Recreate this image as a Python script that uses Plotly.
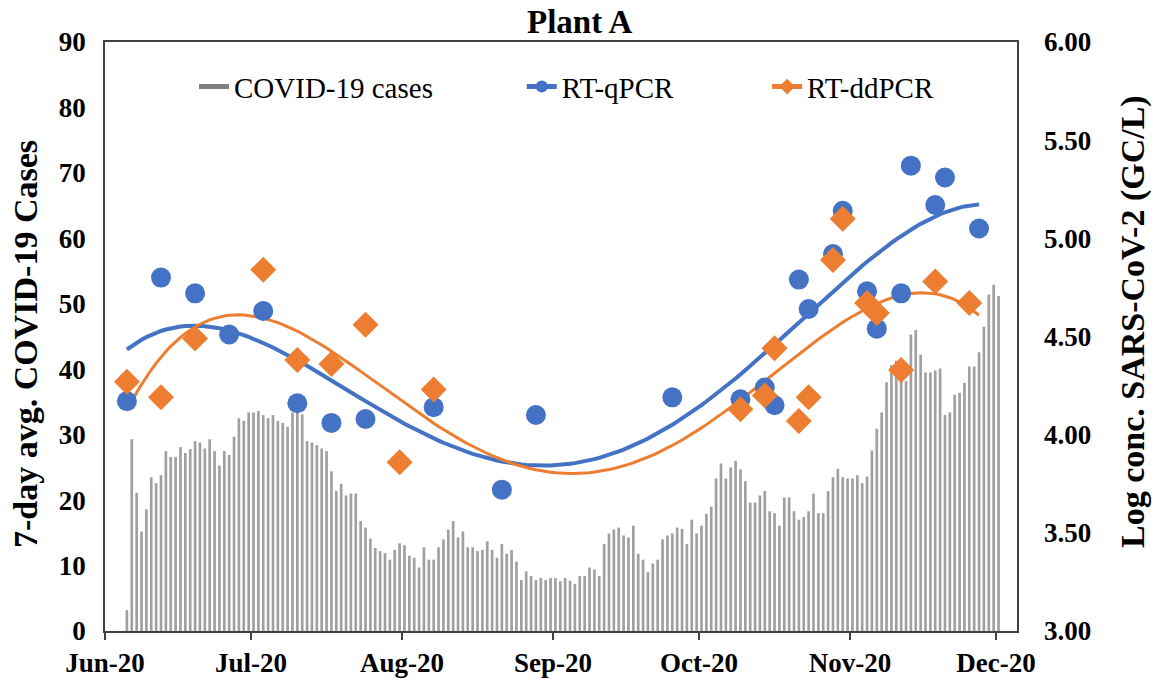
import numpy as np
import pandas as pd
import plotly.graph_objects as go

# 7-day average of reported COVID-19 cases, one value per day from 5 Jun 2020
case_start = "2020-06-05"
cases_7day = [
    3.2, 29.3, 21.1, 15.2, 18.6, 23.5, 22.6, 23.8, 27.5, 26.6,
    26.6, 28.1, 27.2, 27.8, 29.0, 28.8, 27.9, 29.3, 27.5, 25.3,
    27.5, 26.9, 29.7, 32.5, 32.1, 33.4, 33.4, 33.6, 33.0, 32.5,
    33.0, 32.1, 31.8, 31.2, 33.4, 33.5, 33.1, 29.0, 28.8, 28.4,
    27.9, 27.5, 24.4, 21.4, 22.5, 20.7, 21.0, 21.0, 16.8, 15.8,
    14.1, 12.7, 12.2, 11.9, 10.9, 12.4, 13.4, 13.1, 11.5, 11.2,
    9.7, 12.8, 10.9, 10.9, 12.8, 14.0, 15.5, 16.8, 14.3, 15.2,
    12.8, 12.8, 12.2, 12.4, 13.7, 12.4, 11.2, 13.3, 11.8, 12.4,
    10.6, 7.8, 9.1, 8.4, 7.8, 8.1, 7.8, 8.1, 8.1, 7.6,
    8.1, 7.7, 7.2, 8.4, 8.4, 9.7, 9.4, 8.4, 13.3, 14.9,
    15.5, 15.8, 14.6, 14.3, 16.1, 11.8, 10.9, 9.0, 10.3, 10.9,
    14.0, 14.6, 14.9, 15.8, 15.6, 13.3, 17.0, 14.9, 16.1, 17.9,
    19.0, 23.3, 25.6, 23.3, 25.0, 26.0, 24.7, 22.9, 19.6, 19.6,
    20.7, 21.4, 18.3, 18.0, 16.1, 20.4, 20.4, 18.3, 17.0, 17.4,
    18.3, 21.0, 18.0, 18.0, 21.4, 23.5, 24.8, 23.5, 23.3, 23.3,
    23.8, 22.6, 23.6, 27.6, 30.9, 33.4, 38.0, 40.6, 41.3, 40.6,
    38.2, 45.3, 46.0, 42.2, 39.5, 39.5, 39.8, 40.1, 33.0, 33.4,
    36.1, 36.4, 37.9, 40.4, 40.4, 42.6, 46.5, 51.4, 52.9, 51.2,
]
case_dates = pd.date_range(case_start, periods=len(cases_7day), freq="D")

# Wastewater SARS-CoV-2 concentrations (log10 GC/L)
qpcr_dates = [
    "2020-06-05", "2020-06-12", "2020-06-19", "2020-06-26", "2020-07-03",
    "2020-07-10", "2020-07-17", "2020-07-24", "2020-08-07", "2020-08-21",
    "2020-08-28", "2020-09-25", "2020-10-09", "2020-10-14", "2020-10-16",
    "2020-10-21", "2020-10-23", "2020-10-28", "2020-10-30", "2020-11-04",
    "2020-11-06", "2020-11-11", "2020-11-13", "2020-11-18", "2020-11-20",
    "2020-11-27",
]
qpcr_log = [
    4.17, 4.80, 4.72, 4.51, 4.63,
    4.16, 4.06, 4.08, 4.14, 3.72,
    4.10, 4.19, 4.18, 4.24, 4.15,
    4.79, 4.64, 4.92, 5.14, 4.73,
    4.54, 4.72, 5.37, 5.17, 5.31,
    5.05,
]
ddpcr_dates = [
    "2020-06-05", "2020-06-12", "2020-06-19", "2020-07-03", "2020-07-10",
    "2020-07-17", "2020-07-24", "2020-07-31", "2020-08-07", "2020-10-09",
    "2020-10-14", "2020-10-16", "2020-10-21", "2020-10-23", "2020-10-28",
    "2020-10-30", "2020-11-04", "2020-11-06", "2020-11-11", "2020-11-18",
    "2020-11-25",
]
ddpcr_log = [
    4.27, 4.19, 4.49, 4.84, 4.38,
    4.36, 4.56, 3.86, 4.23, 4.13,
    4.20, 4.44, 4.07, 4.19, 4.89,
    5.10, 4.67, 4.62, 4.33, 4.78,
    4.67,
]

month_ticks = ["2020-06-01", "2020-07-01", "2020-08-01", "2020-09-01",
               "2020-10-01", "2020-11-01", "2020-12-01"]
month_labels = ["Jun-20", "Jul-20", "Aug-20", "Sep-20", "Oct-20", "Nov-20", "Dec-20"]

GREY = "#A0A0A0"
KEY_GREY = "#808080"
BLUE = "#4472C4"
ORANGE = "#ED7D31"
FRAME = "#404040"
FONT = "Liberation Serif"
DAY_MS = 86400000

# Both sampling series share one sampling calendar; trendlines span all of it
sample_start = min(pd.to_datetime(qpcr_dates[0]), pd.to_datetime(ddpcr_dates[0]))
sample_end = max(pd.to_datetime(qpcr_dates[-1]), pd.to_datetime(ddpcr_dates[-1]))


def poly_trend(dates, values, order=4):
    """Least-squares polynomial trendline evaluated daily over the sampling span."""
    d = pd.to_datetime(dates)
    t = np.asarray((d - sample_start).days, dtype=float)
    coef = np.polyfit(t, values, order)
    grid = pd.date_range(sample_start, sample_end, freq="D")
    tg = np.asarray((grid - sample_start).days, dtype=float)
    return grid, np.polyval(coef, tg)


q_tx, q_ty = poly_trend(qpcr_dates, qpcr_log)
d_tx, d_ty = poly_trend(ddpcr_dates, ddpcr_log)

period = dict(xperiod=DAY_MS, xperiodalignment="middle")

fig = go.Figure()

fig.add_trace(go.Bar(
    x=case_dates, y=cases_7day, name="COVID-19 cases", showlegend=False,
    marker=dict(color=GREY, line=dict(width=0)), **period,
))

# Trendlines
fig.add_trace(go.Scatter(
    x=q_tx, y=q_ty, mode="lines", yaxis="y2", showlegend=False,
    line=dict(color=BLUE, width=4), **period,
))
fig.add_trace(go.Scatter(
    x=d_tx, y=d_ty, mode="lines", yaxis="y2", showlegend=False,
    line=dict(color=ORANGE, width=3), **period,
))

# Sample points
fig.add_trace(go.Scatter(
    x=pd.to_datetime(qpcr_dates), y=qpcr_log, mode="markers", yaxis="y2",
    showlegend=False, marker=dict(symbol="circle", size=20, color=BLUE),
    **period,
))
fig.add_trace(go.Scatter(
    x=pd.to_datetime(ddpcr_dates), y=ddpcr_log, mode="markers", yaxis="y2",
    showlegend=False, marker=dict(symbol="diamond", size=20, color=ORANGE),
    **period,
))

# Legend-only keys
fig.add_trace(go.Scatter(
    x=[None], y=[None], mode="lines", name="COVID-19 cases",
    line=dict(color=KEY_GREY, width=12), legend="legend",
))
fig.add_trace(go.Scatter(
    x=[None], y=[None], mode="lines+markers", name="RT-qPCR", yaxis="y2",
    line=dict(color=BLUE, width=4), marker=dict(symbol="circle", size=12, color=BLUE),
    legend="legend2",
))
fig.add_trace(go.Scatter(
    x=[None], y=[None], mode="lines+markers", name="RT-ddPCR", yaxis="y2",
    line=dict(color=ORANGE, width=3), marker=dict(symbol="diamond", size=12, color=ORANGE),
    legend="legend3",
))

legend_common = dict(
    orientation="h", yanchor="middle", xanchor="left", y=0.924,
    bgcolor="rgba(0,0,0,0)", font=dict(family=FONT, size=29, color="#000000"),
    itemsizing="constant",
)

tick_font = dict(family=FONT, size=27, color="#000000", weight="bold")

fig.update_layout(
    width=1155, height=679,
    margin=dict(l=105, r=138, t=42, b=48, autoexpand=False),
    paper_bgcolor="white", plot_bgcolor="white",
    bargap=0.45,
    showlegend=True,
    legend=dict(x=0.0976, **legend_common),
    legend2=dict(x=0.457, **legend_common),
    legend3=dict(x=0.726, **legend_common),
    xaxis=dict(
        type="date", automargin=False,
        range=["2020-06-01", "2020-12-05 07:00"],
        tickvals=month_ticks, ticktext=month_labels,
        ticks="outside", ticklen=7, tickwidth=1.5, tickcolor=FRAME,
        showline=True, linecolor=FRAME, linewidth=1.5, mirror=True,
        showgrid=False, zeroline=False,
        tickfont=tick_font,
    ),
    yaxis=dict(
        range=[0, 90], dtick=10, tick0=0, automargin=False,
        showline=True, linecolor=FRAME, linewidth=1.5, mirror=True,
        showgrid=False, zeroline=False, ticks="",
        tickfont=tick_font, ticklabelstandoff=12,
    ),
    yaxis2=dict(
        range=[3, 6], dtick=0.5, tick0=3, tickformat=".2f", automargin=False,
        overlaying="y", side="right",
        showline=False, showgrid=False, zeroline=False, ticks="",
        tickfont=tick_font, ticklabelstandoff=26,
    ),
    annotations=[
        dict(text="<b>Plant A</b>", x=580, y=22),
        dict(text="<b>7-day avg. COVID-19 Cases</b>", textangle=-90, x=25, y=344),
        dict(text="<b>Log conc. SARS-CoV-2 (GC/L)</b>", textangle=-90, x=1133, y=322),
    ],
)

# Place the free-standing texts in pixel terms relative to the plot area
plot_l, plot_w, plot_t, plot_h = 105, 912, 42, 589
for ann, size in zip(fig.layout.annotations, (33, 34, 34)):
    ann.update(
        x=(ann.x - plot_l) / plot_w, y=1 - (ann.y - plot_t) / plot_h,
        xref="paper", yref="paper", xanchor="center", yanchor="middle",
        showarrow=False, font=dict(family=FONT, size=size, color="#000000"),
    )

fig.write_html("out.html")
